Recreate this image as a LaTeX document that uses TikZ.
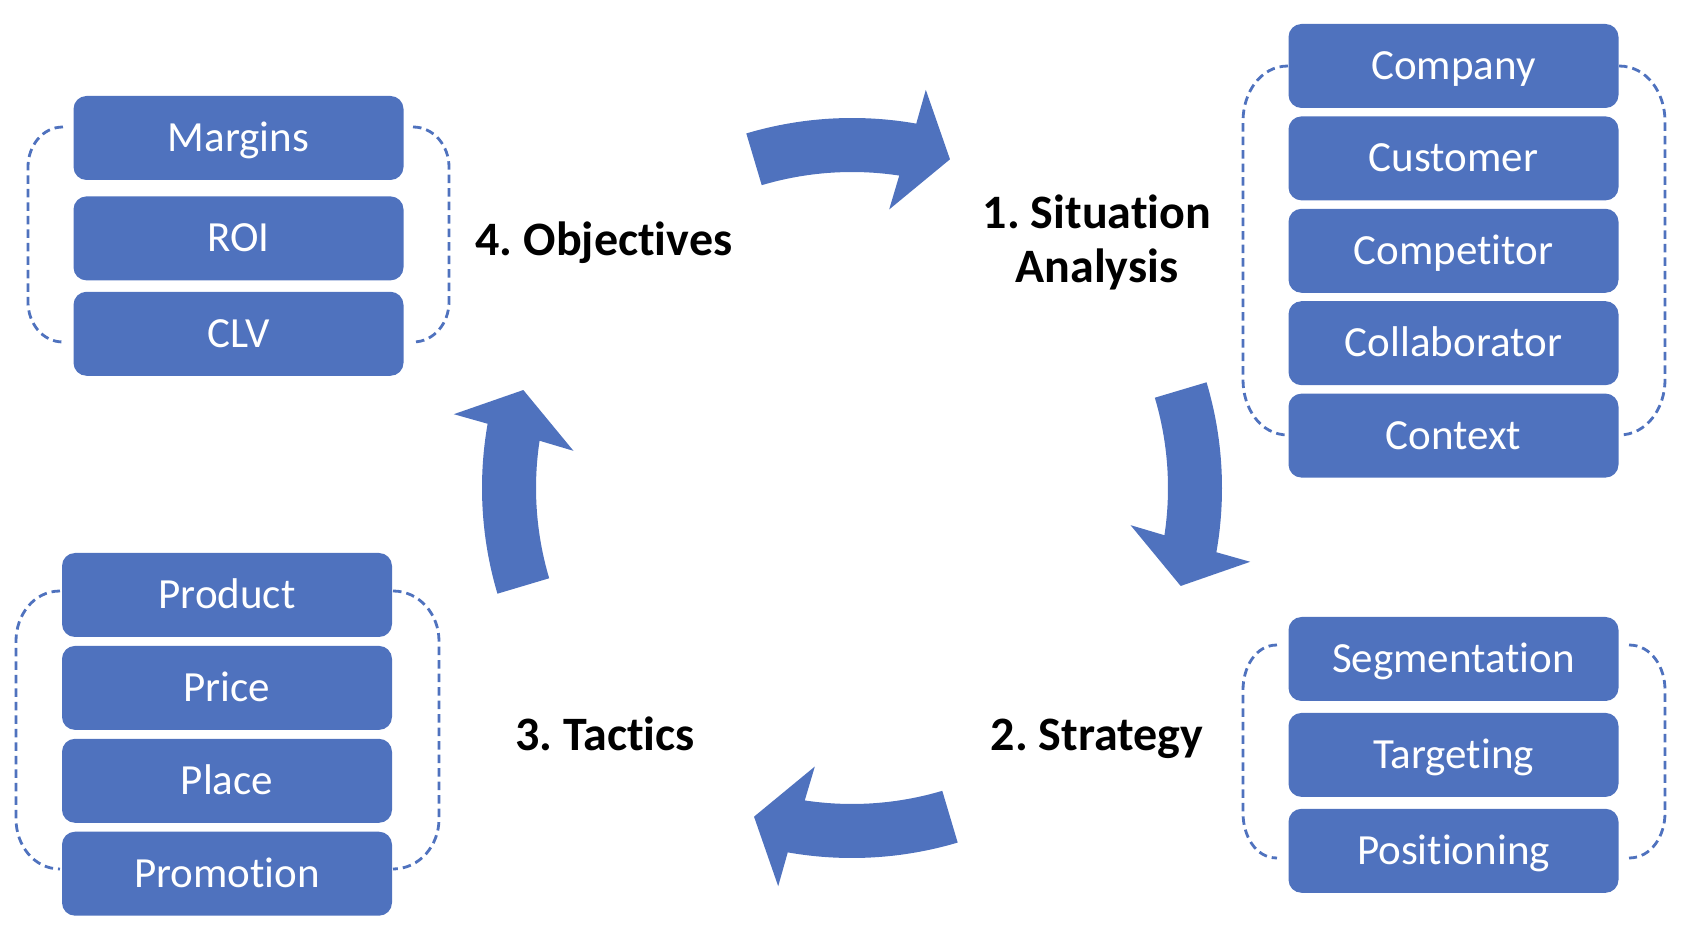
\documentclass[tikz,border=0pt]{standalone}
\usepackage{fontspec}
\setmainfont[Ligatures=NoCommon]{Carlito}
\usetikzlibrary{calc,positioning}
\definecolor{blockblue}{RGB}{79,114,190}
\frenchspacing

\begin{document}
\begin{tikzpicture}[x=1pt, y=1pt,
  item/.style={fill=blockblue, rounded corners=13pt, minimum width=330pt, minimum height=84pt,
    inner sep=0pt, text=white, font=\fontsize{43}{50}\selectfont, text height=27.2pt, text depth=0pt},
  stage/.style={font=\bfseries\fontsize{48}{54}\selectfont, anchor=base, align=center},
  bracket/.style={blockblue, line width=2.8pt, dash pattern=on 8.5pt off 5pt},
  bigarrow/.style={fill=blockblue}]
  \useasboundingbox (0,0) rectangle (1698,946);
  \coordinate (O) at (852,458);

  % dashed brackets
  \draw[bracket] (63,819) to[out=180,in=90] (28,779) -- (28,644) to[out=-90,in=180] (63,604);
  \draw[bracket] (413,819) to[out=0,in=90] (449,779) -- (449,644) to[out=-90,in=0] (413,604);
  \draw[bracket] (1288,880) to[out=180,in=90] (1243,825) -- (1243,566) to[out=-90,in=180] (1288,511);
  \draw[bracket] (1619,880) to[out=0,in=90] (1665,825) -- (1665,566) to[out=-90,in=0] (1619,511);
  \draw[bracket] (1277,301) to[out=180,in=90] (1243,256) -- (1243,133) to[out=-90,in=180] (1277,88);
  \draw[bracket] (1629,301) to[out=0,in=90] (1665,256) -- (1665,133) to[out=-90,in=0] (1629,88);
  \draw[bracket] (60,355) to[out=180,in=90] (16,305) -- (16,127) to[out=-90,in=180] (60,77);
  \draw[bracket] (393,355) to[out=0,in=90] (439,305) -- (439,127) to[out=-90,in=0] (393,77);

  % objectives
  \node[item] (margins) at (238.5,808) {Margins};
  \node[item, below=16pt of margins] (roi) {ROI};
  \node[item, below=11pt of roi] (clv) {CLV};

  % situation analysis
  \node[item] (company) at (1453.5,880) {Company};
  \node[item, below=8pt of company] (customer) {Customer};
  \node[item, below=8pt of customer] (competitor) {Competitor};
  \node[item, below=8pt of competitor] (collaborator) {Collaborator};
  \node[item, below=8pt of collaborator] (context) {Context};

  % strategy
  \node[item] (segmentation) at (1453.5,287) {Segmentation};
  \node[item, below=11.5pt of segmentation] (targeting) {Targeting};
  \node[item, below=11.5pt of targeting] (positioning) {Positioning};

  % tactics
  \node[item] (product) at (227,351) {Product};
  \node[item, below=8.5pt of product] (price) {Price};
  \node[item, below=8.5pt of price] (place) {Place};
  \node[item, below=8.5pt of place] (promotion) {Promotion};

  % stage labels
  \node[stage] (objectives) at (604,690) {4. Objectives};
  \node[stage] (situation) at (1097,663) {1. Situation\\Analysis};
  \node[stage] (strategy) at (1097,196) {2. Strategy};
  \node[stage] (tactics) at (605,196) {3. Tactics};

  % curved arrows round the cycle
  \fill[bigarrow] ($(O)+(106.6:370)$) arc[start angle=106.6, end angle=80, radius=370]
    -- ($(O)+(79.5:405)$) -- ($(O)+(73.4:343)$) -- ($(O)+(82.4:281)$)
    -- ($(O)+(81.4:316)$) arc[start angle=81.4, end angle=106.6, radius=316] -- cycle;
  \fill[bigarrow] ($(O)+(16.6:370)$) arc[start angle=16.6, end angle=-10, radius=370]
    -- ($(O)+(-10.5:405)$) -- ($(O)+(-16.6:343)$) -- ($(O)+(-7.6:281)$)
    -- ($(O)+(-8.6:316)$) arc[start angle=-8.6, end angle=16.6, radius=316] -- cycle;
  \fill[bigarrow] ($(O)+(286.6:370)$) arc[start angle=286.6, end angle=260, radius=370]
    -- ($(O)+(259.5:405)$) -- ($(O)+(253.4:343)$) -- ($(O)+(262.4:281)$)
    -- ($(O)+(261.4:316)$) arc[start angle=261.4, end angle=286.6, radius=316] -- cycle;
  \fill[bigarrow] ($(O)+(196.6:370)$) arc[start angle=196.6, end angle=170, radius=370]
    -- ($(O)+(169.5:405)$) -- ($(O)+(163.4:343)$) -- ($(O)+(172.4:281)$)
    -- ($(O)+(171.4:316)$) arc[start angle=171.4, end angle=196.6, radius=316] -- cycle;
\end{tikzpicture}
\end{document}
